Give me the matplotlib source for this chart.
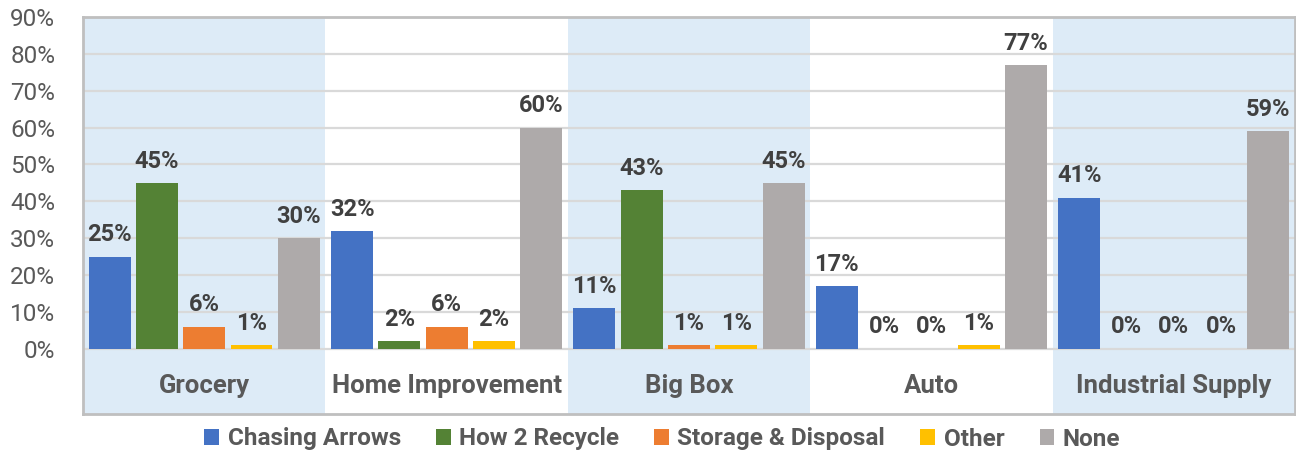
import numpy as np
import matplotlib
matplotlib.use('Agg')
import matplotlib.pyplot as plt
from matplotlib.patches import Patch

plt.rcParams['font.family'] = ['Roboto', 'DejaVu Sans']

categories = ['Grocery', 'Home Improvement', 'Big Box', 'Auto', 'Industrial Supply']
series = ['Chasing Arrows', 'How 2 Recycle', 'Storage & Disposal', 'Other', 'None']
chasing_arrows = [25, 32, 11, 17, 41]
how_2_recycle = [45, 2, 43, 0, 0]
storage_disposal = [6, 6, 1, 0, 0]
other = [1, 2, 1, 1, 0]
none = [30, 60, 45, 77, 59]
values = [chasing_arrows, how_2_recycle, storage_disposal, other, none]
colors = ['#4472C4', '#548235', '#ED7D31', '#FFC000', '#AEAAAA']

fig = plt.figure(figsize=(12.96, 4.53), dpi=100)
ax = fig.add_axes([83 / 1296, 39 / 453, 1212 / 1296, 397 / 453])

x = np.arange(len(categories))
step = 0.195
width = 0.173

# alternating background bands
for i in range(len(categories)):
    if i % 2 == 0:
        ax.axvspan(i - 0.5, i + 0.5, color='#DDEBF7', zorder=0, lw=0)

for k, (name, vals, c) in enumerate(zip(series, values, colors)):
    pos = x + (k - 2) * step
    bars = ax.bar(pos, vals, width, color=c, zorder=3, label=name)
    for b, v in zip(bars, vals):
        ax.annotate(f'{v}%', (b.get_x() + b.get_width() / 2, v),
                    xytext=(0, 11), textcoords='offset points',
                    ha='center', va='baseline', fontsize=17, fontweight='bold',
                    color='#404040', zorder=4)

ax.set_xlim(-0.5, 4.5)
ax.set_ylim(-17.7, 90)
ax.set_yticks(range(0, 91, 10))
ax.set_yticklabels([f'{t}%' for t in range(0, 91, 10)], fontsize=17.5, color='#595959')
ax.tick_params(axis='y', length=0, pad=20)
ax.set_xticks([])
for t in range(0, 91, 10):
    ax.axhline(t, color='#D9D9D9', lw=1.6, zorder=1)

for i, cat in enumerate(categories):
    ax.text(i, -10.2, cat, ha='center', va='center', fontsize=18.5,
            fontweight='bold', color='#595959')

for s in ax.spines.values():
    s.set_color('#BFBFBF')
    s.set_linewidth(2)

handles = [Patch(facecolor=c, label=n) for n, c in zip(series, colors)]
leg = fig.legend(handles=handles, loc='center', bbox_to_anchor=(0.511, 14 / 453),
                 ncol=5, frameon=False, fontsize=17.5, handlelength=0.6, handleheight=0.6,
                 handletextpad=0.35, columnspacing=1.45)
for t in leg.get_texts():
    t.set_color('#595959')
    t.set_fontweight('bold')

fig.savefig('out.png', dpi=100)
